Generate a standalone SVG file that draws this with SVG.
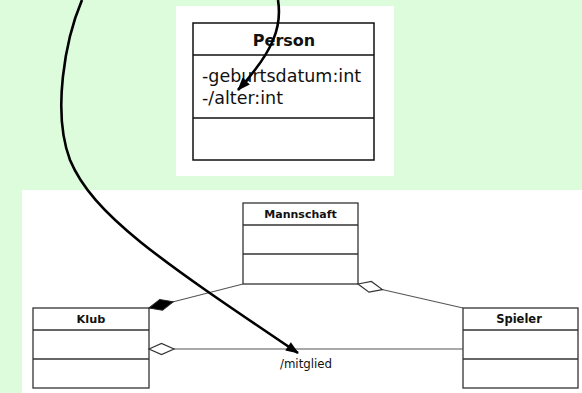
<svg xmlns="http://www.w3.org/2000/svg" width="582" height="393" viewBox="0 0 582 393">
<style>
.box{fill:#fff;stroke:#333;stroke-width:1.3}
.pbox{fill:#fff;stroke:#111;stroke-width:1.5}
.sep{stroke:#333;stroke-width:1.3}
.psep{stroke:#111;stroke-width:1.5}
.t{font-family:"DejaVu Sans",sans-serif;fill:#111}
.tb{font-family:"DejaVu Sans",sans-serif;font-weight:bold;fill:#111;text-anchor:middle}
.assoc{stroke:#555;stroke-width:1.2;fill:none}
.curve{stroke:#000;stroke-width:2.6;fill:none}
</style>
<defs>
<marker id="fdia" markerUnits="userSpaceOnUse" markerWidth="28" markerHeight="14" viewBox="-1 -7 28 14" refX="0" refY="0" orient="auto" overflow="visible">
<path d="M0,0 L12.5,-5.5 L25,0 L12.5,5.5 Z" fill="#000" stroke="#222" stroke-width="1"/>
</marker>
<marker id="odia" markerUnits="userSpaceOnUse" markerWidth="28" markerHeight="14" viewBox="-1 -7 28 14" refX="0" refY="0" orient="auto" overflow="visible">
<path d="M0,0 L12.5,-5.5 L25,0 L12.5,5.5 Z" fill="#fff" stroke="#333" stroke-width="1.2"/>
</marker>
<marker id="arr" markerUnits="userSpaceOnUse" markerWidth="14" markerHeight="12" viewBox="0 -6 14 12" refX="12" refY="0" orient="auto" overflow="visible">
<path d="M0,-5 L13,0 L0,5 Z" fill="#000"/>
</marker>
</defs>
<rect x="0" y="0" width="582" height="393" fill="#dcfcdc"/>
<rect x="176" y="6" width="218" height="170" fill="#fff"/>
<rect x="22" y="190" width="560" height="203" fill="#fff"/>

<g id="person">
<rect class="pbox" x="193" y="23" width="181" height="137"/>
<line class="psep" x1="193" y1="55" x2="374" y2="55"/>
<line class="psep" x1="193" y1="118" x2="374" y2="118"/>
<text class="tb" x="284" y="46" font-size="16">Person</text>
<text class="t" x="202" y="82" font-size="17.5">-geburtsdatum:int</text>
<text class="t" x="202" y="104" font-size="17.5">-/alter:int</text>
</g>

<g id="mannschaft">
<rect class="box" x="243" y="203" width="115" height="81"/>
<line class="sep" x1="243" y1="225" x2="358" y2="225"/>
<line class="sep" x1="243" y1="254" x2="358" y2="254"/>
<text class="tb" x="300.5" y="218" font-size="11">Mannschaft</text>
</g>

<g id="klub">
<rect class="box" x="33" y="308" width="116" height="80"/>
<line class="sep" x1="33" y1="330" x2="149" y2="330"/>
<line class="sep" x1="33" y1="359" x2="149" y2="359"/>
<text class="tb" x="91" y="323" font-size="11.3">Klub</text>
</g>

<g id="spieler">
<rect class="box" x="463" y="308" width="115" height="80"/>
<line class="sep" x1="463" y1="330" x2="578" y2="330"/>
<line class="sep" x1="463" y1="359" x2="578" y2="359"/>
<text class="tb" x="519" y="323" font-size="11.5">Spieler</text>
</g>

<g id="connectors">
<path class="assoc" d="M149,308 L243,284" marker-start="url(#fdia)"/>
<path class="assoc" d="M358,284 L463,308" marker-start="url(#odia)"/>
<path class="assoc" d="M149,349 L463,349" marker-start="url(#odia)"/>
<text class="t" x="306" y="368" font-size="11.8" text-anchor="middle">/mitglied</text>
<path class="curve" d="M82,0 C65,40 52,112 70,160 C93,215 160,260 298,353" marker-end="url(#arr)"/>
<path class="curve" d="M278,0 C282,25 275,50 238,90" marker-end="url(#arr)"/>
</g>
</svg>
